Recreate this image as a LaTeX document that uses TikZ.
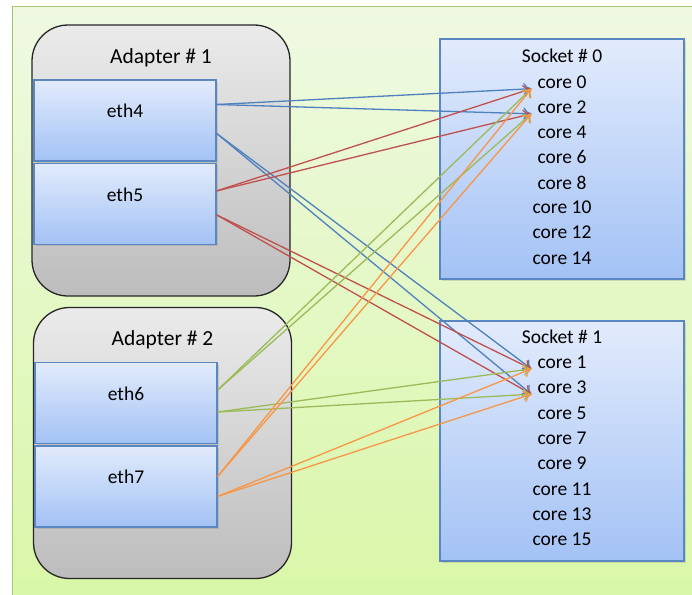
\documentclass[tikz,border=0pt]{standalone}
\usepackage{fontspec}
\setmainfont{Carlito}
\usetikzlibrary{arrows.meta,shadows,positioning}

\definecolor{linkblue}{HTML}{4F81BD}
\definecolor{linkred}{HTML}{C0504D}
\definecolor{linkgreen}{HTML}{9BBB59}
\definecolor{linkorange}{HTML}{F79646}
\definecolor{boxtop}{HTML}{E2EBFC}
\definecolor{boxbot}{HTML}{A3C2F5}
\definecolor{boxline}{HTML}{5A87C2}
\definecolor{bgtop}{HTML}{EFF9E2}
\definecolor{bgbot}{HTML}{D9F7A8}
\definecolor{bgline}{HTML}{A8C46E}

\tikzset{
  adapter/.style={draw=black!85, line width=1.3pt, rounded corners=36pt,
    top color=black!8, bottom color=black!26,
    minimum width=258pt, minimum height=271pt},
  ethbox/.style={draw=boxline, line width=1.4pt, top color=boxtop, bottom color=boxbot,
    minimum width=182pt, minimum height=81pt,
    drop shadow={shadow xshift=2pt, shadow yshift=-2pt, opacity=0.25}},
  socket/.style={draw=boxline, line width=1.4pt, top color=boxtop, bottom color=boxbot,
    minimum width=244pt, minimum height=240pt,
    drop shadow={shadow xshift=2pt, shadow yshift=-2pt, opacity=0.25}},
  core/.style={inner xsep=6pt, inner ysep=0pt},
  title/.style={font=\fontsize{21.5}{24}\selectfont},
  link/.style={line width=1.3pt, -{To[length=8pt,width=12pt]}}
}

\begin{document}
\begin{tikzpicture}[x=1pt, y=-1pt, font=\fontsize{19.5}{22}\selectfont]

    \useasboundingbox (0,0) rectangle (692,594);
    % background panel
    \draw[draw=bgline, line width=1pt, top color=bgtop, bottom color=bgbot]
        (12,7) rectangle (693,595);

    % adapters
    \node[adapter, label={[title, anchor=center, yshift=-33pt]north:Adapter \# 1}] (ad1) at (161,160.5) {};
    \node[adapter, label={[title, anchor=center, yshift=-33pt]north:Adapter \# 2}] (ad2) at (162.5,443) {};

    \node[ethbox, label={[anchor=center, yshift=-32pt]north:eth4}] (eth4) at (125,120.5) {};
    \node[ethbox, below=1pt of eth4, label={[anchor=center, yshift=-32pt]north:eth5}] (eth5) {};
    \node[ethbox, label={[anchor=center, yshift=-32pt]north:eth6}] (eth6) at (126,403) {};
    \node[ethbox, below=1pt of eth6, label={[anchor=center, yshift=-32pt]north:eth7}] (eth7) {};

    % sockets
    \node[socket, label={[anchor=center, yshift=-18pt]north:Socket \# 0}] (sock0) at (562,159) {};
    \node[socket, label={[anchor=center, yshift=-16pt]north:Socket \# 1}] (sock1) at (562,441) {};

    \foreach \i [count=\k] in {0,2,...,14}
        \node[core] (c\i) at (562,57+25.1*\k) {core \i};
    \foreach \i [count=\k] in {1,3,...,15}
        \node[core] (c\i) at (562,337+25.3*\k) {core \i};

    % start points on the adapters
    \coordinate (e4a) at ([yshift=16pt]eth4.east);
    \coordinate (e4b) at ([yshift=-13pt]eth4.east);
    \coordinate (e5a) at ([yshift=13pt]eth5.east);
    \coordinate (e5b) at ([yshift=-11pt]eth5.east);
    \coordinate (e6a) at ([yshift=13pt]eth6.east);
    \coordinate (e6b) at ([yshift=-9pt]eth6.east);
    \coordinate (e7a) at ([yshift=10pt]eth7.east);
    \coordinate (e7b) at ([yshift=-10pt]eth7.east);

    % links
    \draw[link, linkblue] (e4a) -- (c0.south west);
    \draw[link, linkblue] (e4a) -- (c2.south west);
    \draw[link, linkblue] (e4b) -- (c1.south west);
    \draw[link, linkblue] (e4b) -- (c3.south west);

    \draw[link, linkred] (e5a) -- (c0.south west);
    \draw[link, linkred] (e5a) -- (c2.south west);
    \draw[link, linkred] (e5b) -- (c1.south west);
    \draw[link, linkred] (e5b) -- (c3.south west);

    \draw[link, linkgreen] (e6a) -- (c0.south west);
    \draw[link, linkgreen] (e6a) -- (c2.south west);
    \draw[link, linkgreen] (e6b) -- (c1.south west);
    \draw[link, linkgreen] (e6b) -- (c3.south west);

    \draw[link, linkorange] (e7a) -- (c0.south west);
    \draw[link, linkorange] (e7a) -- (c2.south west);
    \draw[link, linkorange] (e7b) -- (c1.south west);
    \draw[link, linkorange] (e7b) -- (c3.south west);

\end{tikzpicture}
\end{document}
